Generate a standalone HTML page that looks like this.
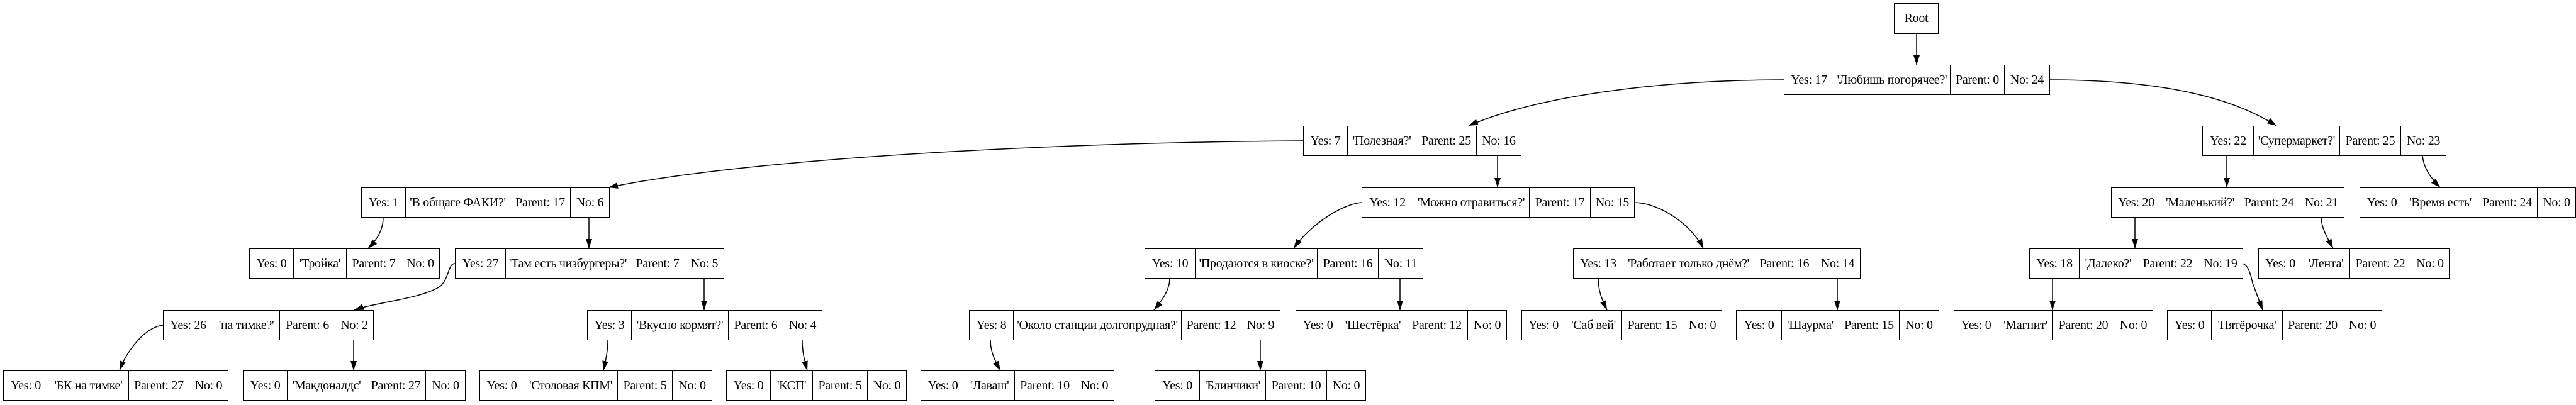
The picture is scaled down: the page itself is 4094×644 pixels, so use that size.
<!DOCTYPE html>
<html><head><meta charset="utf-8">
<style>
html,body{margin:0;padding:0;background:#fff;}
body{width:4094px;height:644px;position:relative;overflow:hidden;font-family:"Liberation Serif","Noto Serif CJK SC",serif;font-size:20px;color:#000;}
.n{position:absolute;height:48px;box-sizing:border-box;border:1.5px solid #000;display:flex;background:#fff;}
.n div{box-sizing:border-box;display:flex;align-items:center;justify-content:center;white-space:nowrap;border-left:1px solid #000;height:100%;letter-spacing:-0.3px;}
.n div:first-child{border-left:none;}
svg{position:absolute;left:0;top:0;}
</style></head><body>
<svg width="4094" height="644" viewBox="0 0 4094 644">
<defs><marker id="a" markerUnits="userSpaceOnUse" markerWidth="15" markerHeight="10" viewBox="0 0 15 10" refX="15" refY="5" orient="auto"><path d="M0,0 L15,5 L0,10 z" fill="#000"/></marker></defs>
<g fill="none" stroke="#000" stroke-width="1.5" marker-end="url(#a)">
<path d="M3046,54 L3046,103"/>
<path d="M2835,127 C2650,127 2450,150 2334,200"/>
<path d="M3256,127 C3420,127 3540,150 3618,200"/>
<path d="M2071,224 C1700,226 1200,250 967,298"/>
<path d="M2380,248 L2380,298"/>
<path d="M3539,248 L3539,298"/>
<path d="M3850,248 C3852,265 3860,280 3878,298"/>
<path d="M609,346 C609,365 600,380 585,395"/>
<path d="M936,346 L936,395"/>
<path d="M2164,322 C2130,325 2080,360 2056,395"/>
<path d="M2596,322 C2640,322 2690,360 2707,395"/>
<path d="M3393,346 L3393,395"/>
<path d="M3689,346 C3690,365 3700,380 3708,395"/>
<path d="M723,419 C712,419 715,440 700,455 C670,475 600,480 563,493"/>
<path d="M1119,443 L1119,493"/>
<path d="M1859,443 C1859,462 1845,480 1834,493"/>
<path d="M2225,443 L2225,493"/>
<path d="M2540,443 C2540,465 2548,480 2554,493"/>
<path d="M2920,443 L2920,493"/>
<path d="M3262,443 L3262,493"/>
<path d="M3563,419 C3572,420 3576,432 3580,450 L3596,493"/>
<path d="M259,517 C230,520 200,560 190,589"/>
<path d="M562,541 L562,589"/>
<path d="M966,541 C966,560 962,575 959,589"/>
<path d="M1275,541 C1275,560 1279,575 1283,589"/>
<path d="M1574,541 C1574,560 1582,575 1590,589"/>
<path d="M2003,541 L2003,589"/>
</g>
</svg>

<div class="n" style="left:3010px;top:5px;width:71px;height:49px;"><div style="width:100%">Root</div></div>

<div class="n" style="left:2835px;top:103px;"><div style="width:78px">Yes: 17</div><div style="width:185px">'Любишь погорячее?'</div><div style="width:86px">Parent: 0</div><div style="width:72px">No: 24</div></div>

<div class="n" style="left:2071px;top:200px;"><div style="width:69px">Yes: 7</div><div style="width:109px">'Полезная?'</div><div style="width:96px">Parent: 25</div><div style="width:71px">No: 16</div></div>
<div class="n" style="left:3500px;top:200px;"><div style="width:80px">Yes: 22</div><div style="width:137px">'Супермаркет?'</div><div style="width:97px">Parent: 25</div><div style="width:72px">No: 23</div></div>

<div class="n" style="left:574px;top:298px;"><div style="width:69px">Yes: 1</div><div style="width:166px">'В общаге ФАКИ?'</div><div style="width:96px">Parent: 17</div><div style="width:62px">No: 6</div></div>
<div class="n" style="left:2164px;top:298px;"><div style="width:80px">Yes: 12</div><div style="width:185px">'Можно отравиться?'</div><div style="width:97px">Parent: 17</div><div style="width:70px">No: 15</div></div>
<div class="n" style="left:3355px;top:298px;"><div style="width:78px">Yes: 20</div><div style="width:124px">'Маленький?'</div><div style="width:95px">Parent: 24</div><div style="width:72px">No: 21</div></div>
<div class="n" style="left:3750px;top:298px;"><div style="width:69px">Yes: 0</div><div style="width:116px">'Время есть'</div><div style="width:96px">Parent: 24</div><div style="width:61px">No: 0</div></div>

<div class="n" style="left:396px;top:395px;"><div style="width:69px">Yes: 0</div><div style="width:84px">'Тройка'</div><div style="width:87px">Parent: 7</div><div style="width:61px">No: 0</div></div>
<div class="n" style="left:723px;top:395px;"><div style="width:79px">Yes: 27</div><div style="width:198px">'Там есть чизбургеры?'</div><div style="width:87px">Parent: 7</div><div style="width:62px">No: 5</div></div>
<div class="n" style="left:1819px;top:395px;"><div style="width:79px">Yes: 10</div><div style="width:194px">'Продаются в киоске?'</div><div style="width:97px">Parent: 16</div><div style="width:71px">No: 11</div></div>
<div class="n" style="left:2500px;top:395px;"><div style="width:78px">Yes: 13</div><div style="width:208px">'Работает только днём?'</div><div style="width:97px">Parent: 16</div><div style="width:72px">No: 14</div></div>
<div class="n" style="left:3225px;top:395px;"><div style="width:78px">Yes: 18</div><div style="width:92px">'Далеко?'</div><div style="width:97px">Parent: 22</div><div style="width:71px">No: 19</div></div>
<div class="n" style="left:3589px;top:395px;"><div style="width:68px">Yes: 0</div><div style="width:76px">'Лента'</div><div style="width:97px">Parent: 22</div><div style="width:61px">No: 0</div></div>

<div class="n" style="left:259px;top:493px;"><div style="width:78px">Yes: 26</div><div style="width:106px">'на тимке?'</div><div style="width:88px">Parent: 6</div><div style="width:61px">No: 2</div></div>
<div class="n" style="left:933px;top:493px;"><div style="width:69px">Yes: 3</div><div style="width:154px">'Вкусно кормят?'</div><div style="width:87px">Parent: 6</div><div style="width:62px">No: 4</div></div>
<div class="n" style="left:1540px;top:493px;"><div style="width:69px">Yes: 8</div><div style="width:267px">'Около станции долгопрудная?'</div><div style="width:95px">Parent: 12</div><div style="width:62px">No: 9</div></div>
<div class="n" style="left:2059px;top:493px;"><div style="width:69px">Yes: 0</div><div style="width:105px">'Шестёрка'</div><div style="width:98px">Parent: 12</div><div style="width:62px">No: 0</div></div>
<div class="n" style="left:2418px;top:493px;"><div style="width:68px">Yes: 0</div><div style="width:90px">'Саб вей'</div><div style="width:97px">Parent: 15</div><div style="width:62px">No: 0</div></div>
<div class="n" style="left:2759px;top:493px;"><div style="width:71px">Yes: 0</div><div style="width:91px">'Шаурма'</div><div style="width:96px">Parent: 15</div><div style="width:63px">No: 0</div></div>
<div class="n" style="left:3105px;top:493px;"><div style="width:69px">Yes: 0</div><div style="width:87px">'Магнит'</div><div style="width:97px">Parent: 20</div><div style="width:62px">No: 0</div></div>
<div class="n" style="left:3444px;top:493px;"><div style="width:69px">Yes: 0</div><div style="width:113px">'Пятёрочка'</div><div style="width:96px">Parent: 20</div><div style="width:62px">No: 0</div></div>

<div class="n" style="left:5px;top:589px;"><div style="width:70px">Yes: 0</div><div style="width:128px">'БК на тимке'</div><div style="width:96px">Parent: 27</div><div style="width:62px">No: 0</div></div>
<div class="n" style="left:386px;top:589px;"><div style="width:69px">Yes: 0</div><div style="width:125px">'Макдоналдс'</div><div style="width:95px">Parent: 27</div><div style="width:63px">No: 0</div></div>
<div class="n" style="left:762px;top:589px;"><div style="width:69px">Yes: 0</div><div style="width:149px">'Столовая КПМ'</div><div style="width:87px">Parent: 5</div><div style="width:63px">No: 0</div></div>
<div class="n" style="left:1154px;top:589px;"><div style="width:69px">Yes: 0</div><div style="width:67px">'КСП'</div><div style="width:87px">Parent: 5</div><div style="width:62px">No: 0</div></div>
<div class="n" style="left:1463px;top:589px;"><div style="width:69px">Yes: 0</div><div style="width:79px">'Лаваш'</div><div style="width:96px">Parent: 10</div><div style="width:62px">No: 0</div></div>
<div class="n" style="left:1835px;top:589px;"><div style="width:70px">Yes: 0</div><div style="width:105px">'Блинчики'</div><div style="width:97px">Parent: 10</div><div style="width:62px">No: 0</div></div>
</body></html>
